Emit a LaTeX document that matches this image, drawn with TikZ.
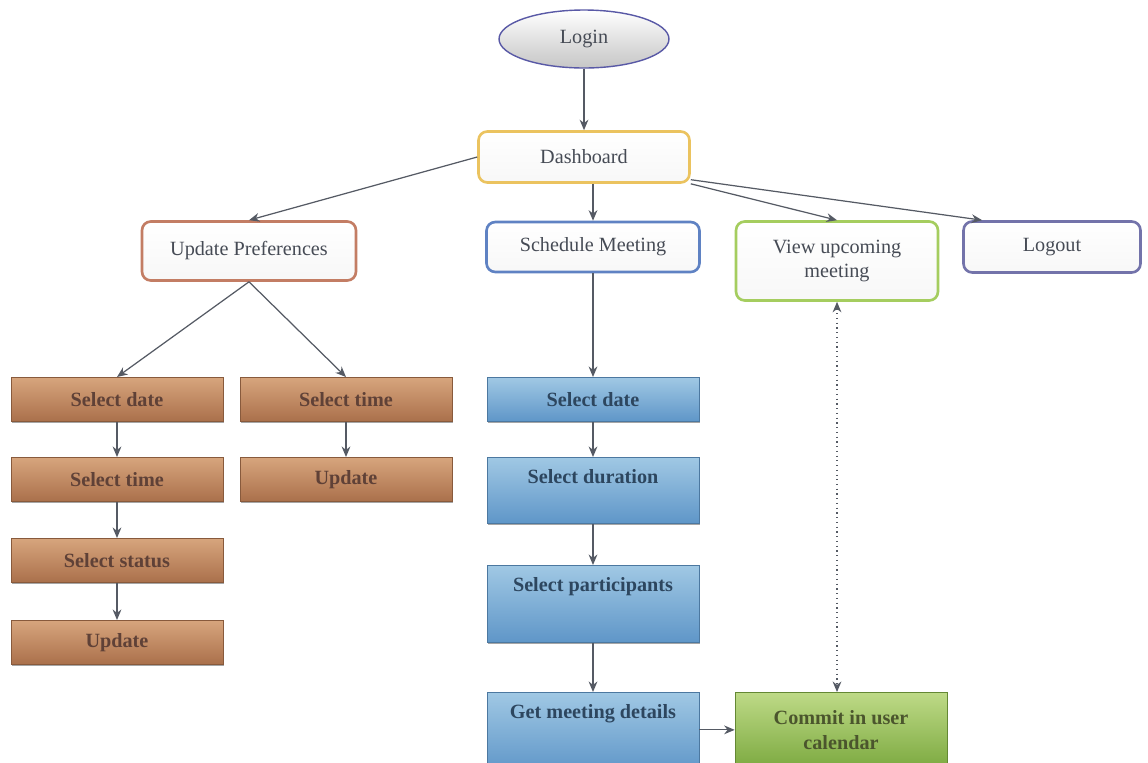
\documentclass[tikz,border=0pt]{standalone}
\usepackage{fontspec}
\setmainfont{Liberation Serif}
\usepackage{xcolor}
\usetikzlibrary{positioning,arrows.meta,shapes.geometric,shadows}

\definecolor{linegray}{RGB}{85,90,100}
\definecolor{txtgray}{RGB}{70,75,85}
\definecolor{dashcol}{RGB}{235,195,95}
\definecolor{prefcol}{RGB}{195,125,100}
\definecolor{schedcol}{RGB}{95,130,195}
\definecolor{viewcol}{RGB}{165,205,95}
\definecolor{outcol}{RGB}{115,115,170}
\definecolor{brtop}{RGB}{215,165,125}
\definecolor{brbot}{RGB}{170,112,75}
\definecolor{brtxt}{RGB}{95,65,55}
\definecolor{bltop}{RGB}{160,200,228}
\definecolor{blbot}{RGB}{95,150,200}
\definecolor{bltxt}{RGB}{45,70,95}
\definecolor{grtop}{RGB}{190,218,135}
\definecolor{grbot}{RGB}{125,170,65}
\definecolor{grtxt}{RGB}{75,85,45}

\begin{document}
\begin{tikzpicture}[
            x=0.02cm, y=-0.02cm,
            font=\fontsize{11.5}{14}\selectfont,
            arrow/.style={-{Stealth[length=6pt,width=5pt]}, draw=linegray, line width=0.7pt},
            link/.style={{Stealth[length=6pt,width=5pt]}-{Stealth[length=6pt,width=5pt]}, draw=linegray, line width=0.7pt, dotted},
            menubox/.style={draw, rounded corners=5pt, line width=1.5pt, top color=white, bottom color=gray!6, align=center, text=txtgray, inner sep=2pt},
            stepbox/.style={anchor=north, minimum width=4.24cm, align=center, font=\fontsize{11.5}{14}\selectfont\bfseries, line width=0.4pt,
                    drop shadow={shadow xshift=0.6pt, shadow yshift=-1.2pt, opacity=0.7}},
            brown/.style={stepbox, draw=brbot!80!black, top color=brtop, bottom color=brbot, text=brtxt, minimum height=0.88cm},
            blue/.style={stepbox, draw=blbot!80!black, top color=bltop, bottom color=blbot, text=bltxt},
            green/.style={stepbox, draw=grbot!80!black, top color=grtop, bottom color=grbot, text=grtxt},
            toptext/.style={text height=0.28cm, inner ysep=0.24cm, text depth=#1}
        ]
        \useasboundingbox (0,0) rectangle (1148,762);

        % --- TOP ---
        \node[ellipse, draw=gray!70!blue, line width=0.8pt, top color=white, bottom color=gray!45,
              minimum width=3.4cm, minimum height=1.16cm, text=txtgray] (login) at (584,39) {Login};
        \node[menubox, draw=dashcol, minimum width=4.22cm, minimum height=1.02cm] (dash) at (584,157) {Dashboard};

        % --- MENU ---
        \node[menubox, draw=prefcol, minimum width=4.28cm, minimum height=1.18cm] (pref) at (249,251) {Update Preferences};
        \node[menubox, draw=schedcol, minimum width=4.26cm, minimum height=1.0cm] (sched) at (593,247) {Schedule Meeting};
        \node[menubox, draw=viewcol, minimum width=4.04cm, minimum height=1.58cm] (view) at (837,261) {View upcoming\\meeting};
        \node[menubox, draw=outcol, minimum width=3.54cm, minimum height=1.02cm] (logout) at (1052,247) {Logout};

        % --- PREFERENCES ---
        \node[brown] (pdate) at (117,377) {Select date};
        \node[brown] (ptime) at (117,457) {Select time};
        \node[brown] (pstat) at (117,538) {Select status};
        \node[brown] (pupd) at (117,620) {Update};
        \node[brown] (qtime) at (346,377) {Select time};
        \node[brown] (qupd) at (346,457) {Update};

        % --- SCHEDULE ---
        \node[blue, minimum height=0.88cm] (sdate) at (593,377) {Select date};
        \node[blue, toptext=0.56cm] (sdur) at (593,457) {Select duration};
        \node[blue, toptext=0.78cm] (spart) at (593,565) {Select participants};
        \node[blue, toptext=0.84cm] (sget) at (593,692) {Get meeting details};
        \node[green, minimum height=1.5cm] (commit) at (841,692) {Commit in user\\calendar};

        % --- CONNECTEURS ---
        \draw[arrow] (login) -- (dash);
        \draw[arrow] (dash.west) -- (pref.north);
        \draw[arrow] (sched.north |- dash.south) -- (sched.north);
        \draw[arrow] (dash.south east) -- (view.north);
        \draw[arrow] (dash.-12) -- (logout.159);

        \draw[arrow] (pref.south) -- (pdate.north);
        \draw[arrow] (pref.south) -- (qtime.north);
        \draw[arrow] (sched.south) -- (sdate.north);

        \foreach \a/\b in {pdate/ptime, ptime/pstat, pstat/pupd, qtime/qupd, sdate/sdur, sdur/spart, spart/sget} {
                \draw[arrow] (\a.south) -- (\b.north);
            }

        \draw[arrow] (sget.east |- commit.west) -- (commit.west);
        \draw[link] (view.south) -- (view.south |- commit.north);

    \end{tikzpicture}
\end{document}
